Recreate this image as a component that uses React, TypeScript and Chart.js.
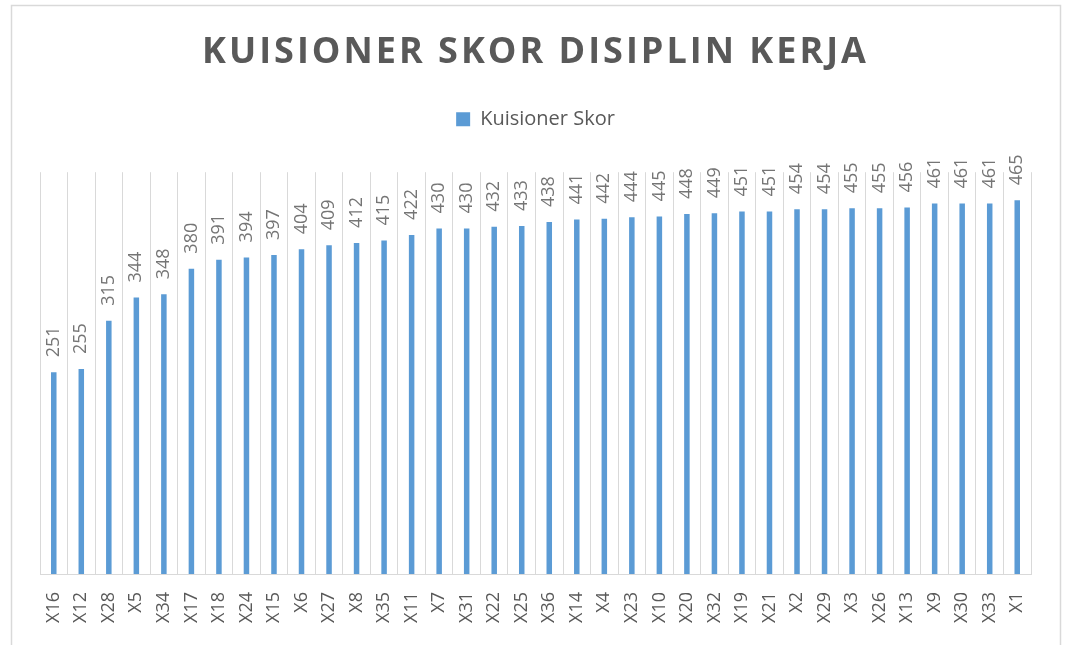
import React, { useEffect, useRef } from "react";
import { Chart, registerables } from "chart.js";

Chart.register(...registerables);

const categories = ["X16","X12","X28","X5","X34","X17","X18","X24","X15","X6","X27","X8","X35","X11","X7","X31","X22","X25","X36","X14","X4","X23","X10","X20","X32","X19","X21","X2","X29","X3","X26","X13","X9","X30","X33","X1"];
const scores = [251,255,315,344,348,380,391,394,397,404,409,412,415,422,430,430,432,433,438,441,442,444,445,448,449,451,451,454,454,455,455,456,461,461,461,465];
const seriesName = "Kuisioner Skor";
const chartTitle = "KUISIONER SKOR DISIPLIN KERJA";

const FONT = "'Open Sans', 'Noto Sans', sans-serif";
const TEXT = "#595959";
const LABEL = "#757575";
const GRID = "#d9d9d9";
const BAR = "#5b9bd5";

const borderPlugin = {
  id: "outerBorder",
  afterInit(chart: any) {
    const tb = chart.titleBlock;
    if (tb && !tb.__spaced) {
      const orig = tb.draw;
      tb.draw = function (...args: any[]) {
        const ctx = chart.ctx;
        ctx.save();
        (ctx as any).letterSpacing = "3px";
        orig.apply(this, args);
        ctx.restore();
      };
      tb.__spaced = true;
    }
  },
  beforeDraw(chart: any) {
    const ctx = chart.ctx;
    ctx.save();
    ctx.fillStyle = "#ffffff";
    ctx.fillRect(0, 0, chart.width, chart.height);
    ctx.strokeStyle = GRID;
    ctx.lineWidth = 1.5;
    ctx.strokeRect(11.5, 5.5, 1049, 700);
    ctx.restore();
  },
};

const labelPlugin = {
  id: "barLabels",
  afterDatasetsDraw(chart: any) {
    const ctx = chart.ctx;
    const meta = chart.getDatasetMeta(0);
    const data = chart.data.datasets[0].data;
    ctx.save();
    ctx.fillStyle = LABEL;
    ctx.font = `18px ${FONT}`;
    ctx.textAlign = "left";
    ctx.textBaseline = "middle";
    meta.data.forEach((bar: any, i: number) => {
      ctx.save();
      ctx.translate(bar.x, bar.y - 15);
      ctx.rotate(-Math.PI / 2);
      ctx.fillText(String(data[i]), 0, 0);
      ctx.restore();
    });
    ctx.restore();
  },
};

export default function App() {
  const ref = useRef<HTMLCanvasElement | null>(null);
  useEffect(() => {
    if (!ref.current) return;
    const chart = new Chart(ref.current, {
      type: "bar",
      data: {
        labels: categories,
        datasets: [
          {
            label: seriesName,
            data: scores,
            backgroundColor: BAR,
            borderWidth: 0,
            barPercentage: 0.2,
            categoryPercentage: 1,
          },
        ],
      },
      options: {
        responsive: false,
        animation: false,
        devicePixelRatio: 1,
        layout: { padding: { left: 40, right: 35, top: 0, bottom: 0 } },
        plugins: {
          title: {
            display: true,
            text: chartTitle,
            color: TEXT,
            font: { family: FONT, size: 36, weight: "bold", lineHeight: 1.2 },
            padding: { top: 31, bottom: 25 },
          },
          legend: {
            display: true,
            labels: {
              color: TEXT,
              font: { family: FONT, size: 20 },
              boxWidth: 14,
              boxHeight: 14,
              padding: 10,
            },
          },
          tooltip: { enabled: false },
        },
        scales: {
          x: {
            type: "category",
            position: "bottom",
            offset: true,
            grid: { display: true, color: GRID, lineWidth: 1, drawTicks: false, offset: true },
            border: { display: true, color: GRID, width: 1 },
            ticks: {
              color: TEXT,
              font: { family: FONT, size: 18 },
              maxRotation: 90,
              minRotation: 90,
              autoSkip: false,
              padding: 18,
            },
            afterFit(scale: any) {
              scale.height = 71;
            },
          },
          xTop: {
            type: "category",
            position: "top",
            grid: { display: false, drawTicks: false },
            border: { display: false },
            ticks: { display: false },
            afterFit(scale: any) {
              scale.height = 33;
            },
          },
          y: {
            display: false,
            min: 0,
            max: 500,
          },
        },
      } as any,
      plugins: [borderPlugin, labelPlugin],
    });
    return () => chart.destroy();
  }, []);
  return (
    <div style={{ position: "absolute", left: 0, top: 0, width: 1066, height: 645 }}>
      <canvas ref={ref} width={1066} height={645} />
    </div>
  );
}
